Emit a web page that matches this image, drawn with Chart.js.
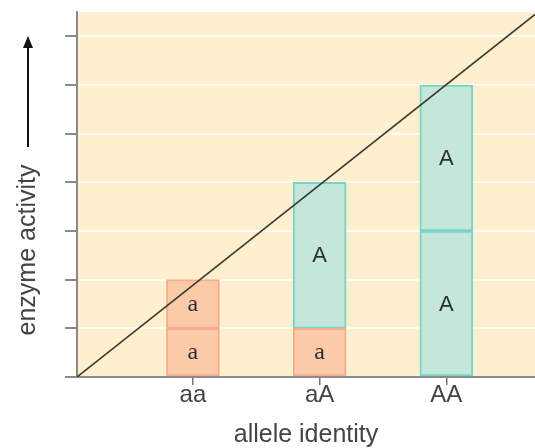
<!DOCTYPE html>
<html>
<head>
<meta charset="utf-8">
<script src="https://cdn.jsdelivr.net/npm/chart.js@4"></script>
<style>
  html, body { margin: 0; padding: 0; background: #ffffff; }
  #wrap { width: 535px; height: 448px; }
</style>
</head>
<body>
<div id="wrap"><canvas id="chart"></canvas></div>
<script>
// genotype categories and where they sit on the x axis
const categories = ['aa', 'aA', 'AA'];
const categoryX = [1, 2, 3];

// stacked allele blocks: lower block then upper block
const lowerAllele = ['a', 'a', 'A'];
const lowerValues = [1, 1, 3];
const upperAllele = ['a', 'A', 'A'];
const upperValues = [1, 3, 3];

// y tick marks (no labels in the original)
const yTicks = [0, 1, 2, 3, 4, 5, 6, 7];

// straight reference line
const lineX = [0.085, 3.7];
const lineY = [0, 7.45];

const xMin = 0.085, xMax = 3.7;
const yMin = 0, yMax = 7.5;

const fillColor = { a: '#fbcaa8', A: '#c4e7da' };
const edgeColor = { a: '#f6ad8d', A: '#77d4c8' };
const sansFont = '"Liberation Sans", Arial, sans-serif';

function points(xs, ys) {
  return xs.map(function(x, i) { return { x: x, y: ys[i] }; });
}

// cream background of the plot area
const plotBackground = {
  id: 'plotBackground',
  beforeDraw: function(chart) {
    const a = chart.chartArea;
    const ctx = chart.ctx;
    ctx.save();
    ctx.fillStyle = '#fef0cf';
    ctx.fillRect(a.left, a.top, a.right - a.left, a.bottom - a.top);
    ctx.restore();
  }
};

// allele letters inside each block
const blockLabels = {
  id: 'blockLabels',
  afterDatasetsDraw: function(chart) {
    const ctx = chart.ctx;
    const sets = [lowerAllele, upperAllele];
    ctx.save();
    ctx.textAlign = 'center';
    ctx.textBaseline = 'middle';
    ctx.fillStyle = '#2e2e2e';
    sets.forEach(function(alleles, di) {
      const meta = chart.getDatasetMeta(di);
      meta.data.forEach(function(bar, i) {
        const p = bar.getProps(['x', 'y', 'base'], true);
        const letter = alleles[i];
        ctx.font = letter === 'a' ? '24px "Liberation Serif", serif' : '22px ' + sansFont;
        ctx.fillText(letter, p.x, (p.y + p.base) / 2 + 1);
      });
    });
    ctx.restore();
  }
};

// rotated y title with an upward arrow
const yTitle = {
  id: 'yTitle',
  afterDraw: function(chart) {
    const ctx = chart.ctx;
    ctx.save();
    ctx.translate(28, 250);
    ctx.rotate(-Math.PI / 2);
    ctx.font = '25px ' + sansFont;
    ctx.fillStyle = '#444444';
    ctx.textAlign = 'center';
    ctx.textBaseline = 'middle';
    ctx.fillText('enzyme activity', 0, 0);
    ctx.restore();

    ctx.save();
    ctx.strokeStyle = '#111111';
    ctx.fillStyle = '#111111';
    ctx.lineWidth = 2;
    ctx.beginPath();
    ctx.moveTo(28, 147);
    ctx.lineTo(28, 44);
    ctx.stroke();
    ctx.beginPath();
    ctx.moveTo(28, 36);
    ctx.lineTo(23, 48);
    ctx.lineTo(33, 48);
    ctx.closePath();
    ctx.fill();
    ctx.restore();
  }
};

new Chart(document.getElementById('chart'), {
  data: {
    datasets: [{
      type: 'bar',
      data: points(categoryX, lowerValues),
      backgroundColor: lowerAllele.map(function(k) { return fillColor[k]; }),
      borderColor: lowerAllele.map(function(k) { return edgeColor[k]; }),
      borderWidth: 2,
      borderSkipped: false,
      barThickness: 53,
      order: 2
    }, {
      type: 'bar',
      data: points(categoryX, upperValues),
      backgroundColor: upperAllele.map(function(k) { return fillColor[k]; }),
      borderColor: upperAllele.map(function(k) { return edgeColor[k]; }),
      borderWidth: 2,
      borderSkipped: false,
      barThickness: 53,
      order: 2
    }, {
      type: 'line',
      data: points(lineX, lineY),
      borderColor: '#3a3a32',
      borderWidth: 1.6,
      pointRadius: 0,
      fill: false,
      order: 1
    }]
  },
  options: {
    responsive: true,
    maintainAspectRatio: false,
    animation: false,
    layout: { padding: { left: 65, right: 0, top: 12, bottom: 0 } },
    plugins: {
      legend: { display: false },
      tooltip: { enabled: false }
    },
    scales: {
      x: {
        type: 'linear',
        min: xMin,
        max: xMax,
        offset: false,
        stacked: true,
        grid: {
          drawOnChartArea: false,
          offset: false,
          tickLength: 8,
          tickColor: '#777777',
          lineWidth: 1.5
        },
        border: { color: '#8a8a8a', width: 2 },
        afterBuildTicks: function(scale) {
          scale.ticks = categoryX.map(function(v) { return { value: v }; });
        },
        ticks: {
          autoSkip: false,
          maxRotation: 0,
          padding: -2,
          color: '#444444',
          font: { family: sansFont, size: 24, lineHeight: 1 },
          callback: function(v) {
            const i = categoryX.indexOf(v);
            return i >= 0 ? categories[i] : '';
          }
        },
        title: {
          display: true,
          text: 'allele identity',
          color: '#444444',
          padding: { top: 18, bottom: 0 },
          font: { family: sansFont, size: 25, lineHeight: 1 }
        }
      },
      y: {
        type: 'linear',
        min: yMin,
        max: yMax,
        stacked: true,
        afterBuildTicks: function(scale) {
          scale.ticks = yTicks.map(function(v) { return { value: v }; });
        },
        ticks: { display: false },
        grid: {
          color: 'rgba(255, 255, 255, 0.75)',
          lineWidth: 2,
          tickLength: 12,
          tickColor: '#8a8a8a'
        },
        border: { color: '#8a8a8a', width: 2 }
      }
    }
  },
  plugins: [plotBackground, blockLabels, yTitle]
});
</script>
</body>
</html>
